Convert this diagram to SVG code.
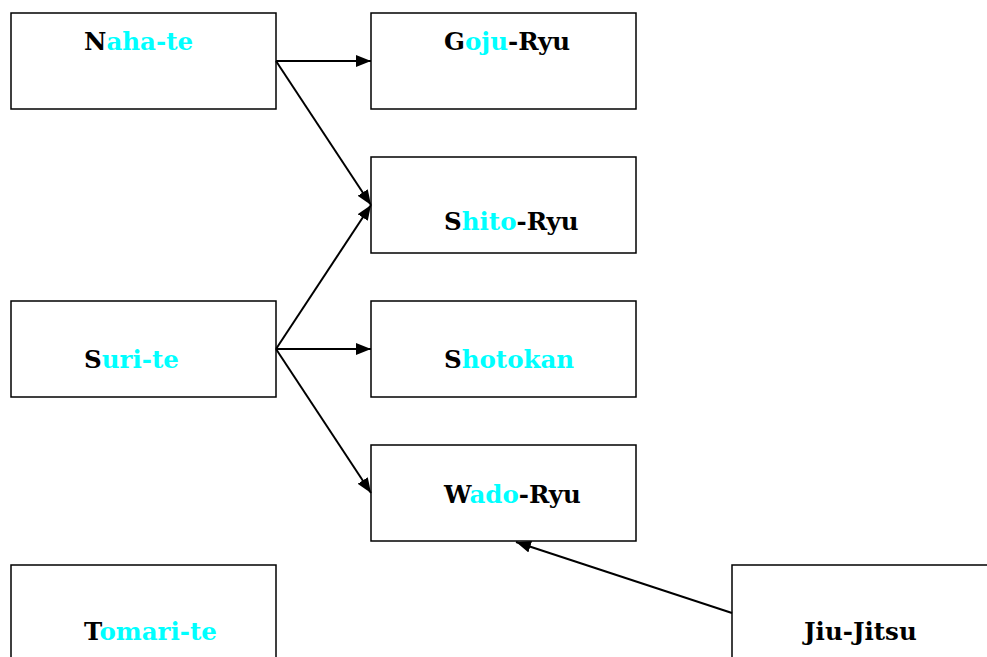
<svg xmlns="http://www.w3.org/2000/svg" width="987" height="657" viewBox="0 0 987 657">
<style>
.box{fill:#fff;stroke:#000;stroke-width:1.5}
.lbl{font-family:"DejaVu Serif","Liberation Serif",serif;font-weight:bold;font-size:24.5px;fill:#000}
.c{fill:#00ffff}
.edge{stroke:#000;stroke-width:2;fill:none;marker-end:url(#ah)}
</style>
<defs>
<marker id="ah" viewBox="0 0 15 12" refX="15" refY="6" markerWidth="15" markerHeight="12" markerUnits="userSpaceOnUse" orient="auto">
<path d="M0,0 L15,6 L0,12 Z" fill="#000"/>
</marker>
</defs>
<rect width="987" height="657" fill="#fff"/>
<g id="naha-te"><rect class="box" x="11" y="13" width="265" height="96"/><text class="lbl" x="84" y="50">N<tspan class="c">aha-te</tspan></text></g>
<g id="goju-ryu"><rect class="box" x="371" y="13" width="265" height="96"/><text class="lbl" x="444" y="50">G<tspan class="c">oju</tspan>-Ryu</text></g>
<g id="shito-ryu"><rect class="box" x="371" y="157" width="265" height="96"/><text class="lbl" x="444" y="230">S<tspan class="c">hito</tspan>-Ryu</text></g>
<g id="suri-te"><rect class="box" x="11" y="301" width="265" height="96"/><text class="lbl" x="84" y="368">S<tspan class="c">uri-te</tspan></text></g>
<g id="shotokan"><rect class="box" x="371" y="301" width="265" height="96"/><text class="lbl" x="444" y="368">S<tspan class="c">hotokan</tspan></text></g>
<g id="wado-ryu"><rect class="box" x="371" y="445" width="265" height="96"/><text class="lbl" x="444" y="503">W<tspan class="c">ado</tspan>-Ryu</text></g>
<g id="tomari-te"><rect class="box" x="11" y="565" width="265" height="96"/><text class="lbl" x="84" y="640">T<tspan class="c">omari-te</tspan></text></g>
<g id="jiu-jitsu"><rect class="box" x="732" y="565" width="265" height="96"/><text class="lbl" x="804" y="640">Jiu-Jitsu</text></g>
<g id="connectors">
<line class="edge" x1="276" y1="61" x2="371" y2="61"/>
<line class="edge" x1="276" y1="61" x2="371" y2="205"/>
<line class="edge" x1="276" y1="349" x2="371" y2="205"/>
<line class="edge" x1="276" y1="349" x2="371" y2="349"/>
<line class="edge" x1="276" y1="349" x2="371" y2="493"/>
<line class="edge" x1="732" y1="613" x2="516" y2="542"/>
</g>
</svg>
